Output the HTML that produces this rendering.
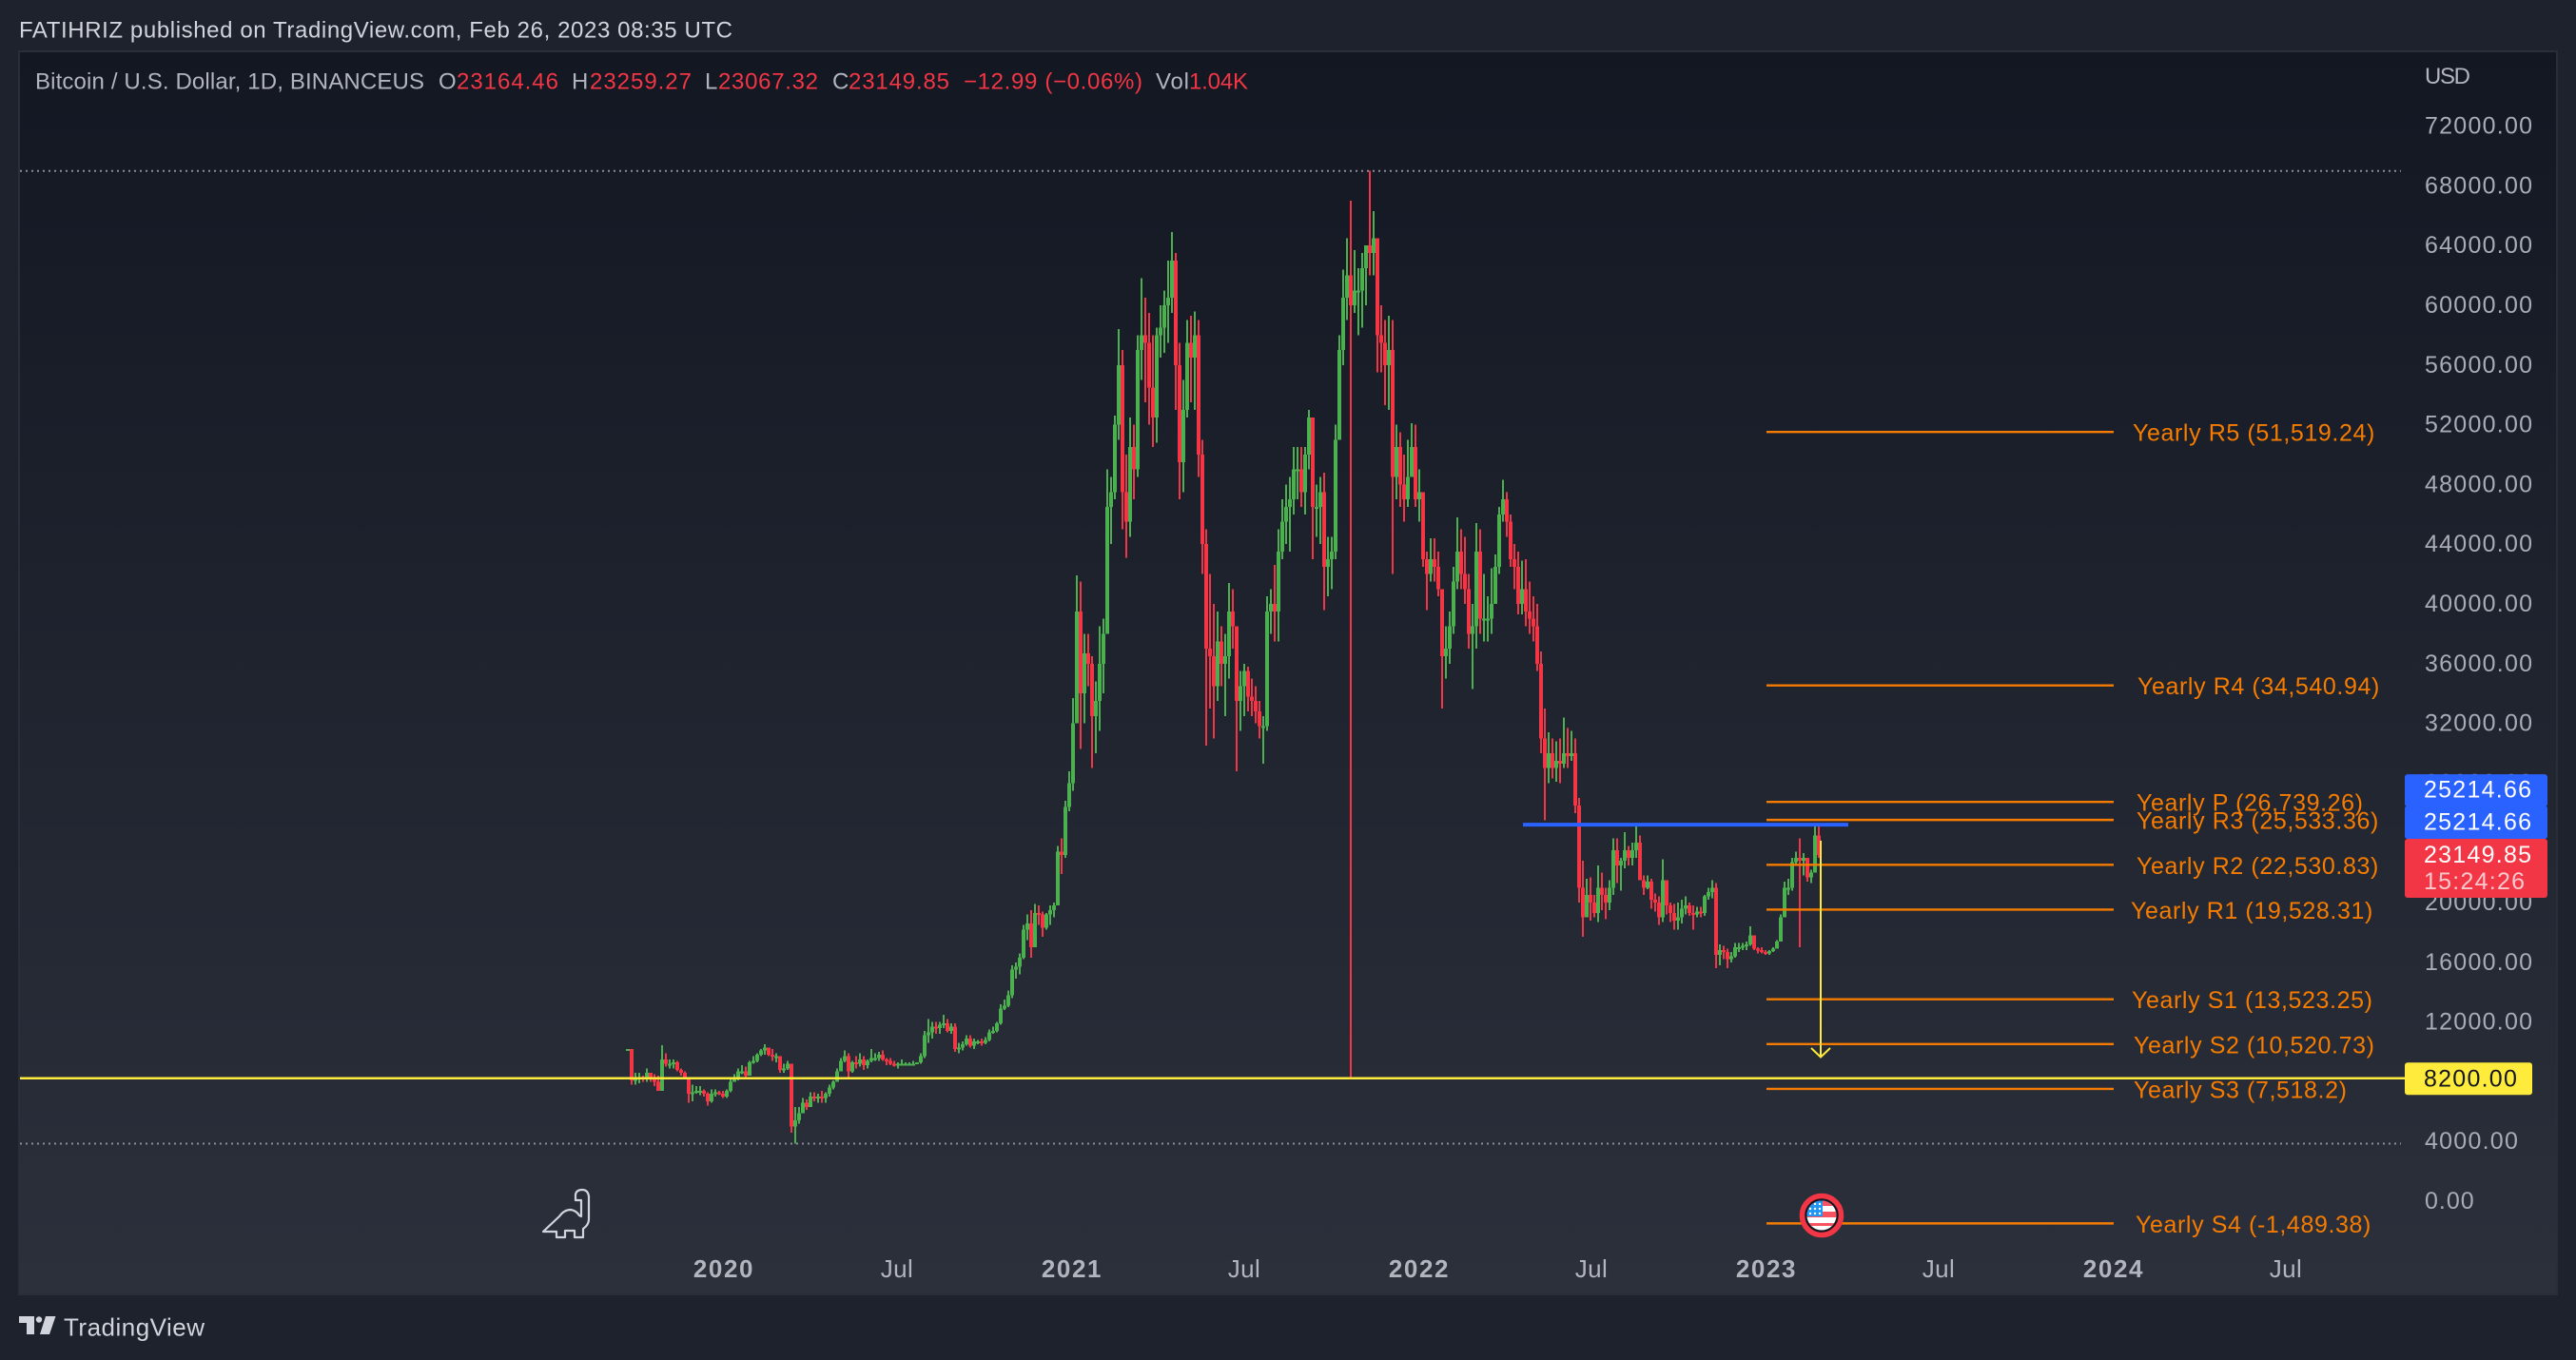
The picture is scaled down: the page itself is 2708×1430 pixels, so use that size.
<!DOCTYPE html>
<html lang="en">
<head>
<meta charset="utf-8">
<title>BTCUSD chart</title>
<style>
html,body{margin:0;padding:0;background:#1e222d;width:2708px;height:1430px;overflow:hidden}
svg{display:block;font-family:"Liberation Sans",sans-serif}
</style>
</head>
<body>
<svg id="chart" width="2708" height="1430" viewBox="0 0 2708 1430" xmlns="http://www.w3.org/2000/svg">
  <defs>
    <linearGradient id="paneGrad" x1="0" y1="0" x2="0" y2="1">
      <stop offset="0" stop-color="#131722"/>
      <stop offset="1" stop-color="#2c303b"/>
    </linearGradient>
    <clipPath id="flagClip"><circle cx="1915" cy="1278" r="15.5"/></clipPath>
  </defs>
  <rect x="0" y="0" width="2708" height="1430" fill="#1e222d"/>
  <rect x="20" y="54" width="2668" height="1307" fill="url(#paneGrad)" stroke="#2a2e39" stroke-width="2"/>

  <text x="20" y="39.5" font-size="24" fill="#d1d4dc" textLength="750" lengthAdjust="spacing">FATIHRIZ published on TradingView.com, Feb 26, 2023 08:35 UTC</text>

  <g font-size="24">
    <text x="37" y="93.5" fill="#b2b5be" textLength="409" lengthAdjust="spacing">Bitcoin / U.S. Dollar, 1D, BINANCEUS</text>
    <text x="461" y="93.5" fill="#b2b5be">O</text>
    <text x="480" y="93.5" fill="#f23645" textLength="107" lengthAdjust="spacing">23164.46</text>
    <text x="601" y="93.5" fill="#b2b5be">H</text>
    <text x="620" y="93.5" fill="#f23645" textLength="107" lengthAdjust="spacing">23259.27</text>
    <text x="741" y="93.5" fill="#b2b5be">L</text>
    <text x="755" y="93.5" fill="#f23645" textLength="105" lengthAdjust="spacing">23067.32</text>
    <text x="875" y="93.5" fill="#b2b5be">C</text>
    <text x="892" y="93.5" fill="#f23645" textLength="106" lengthAdjust="spacing">23149.85</text>
    <text x="1013" y="93.5" fill="#f23645" textLength="188" lengthAdjust="spacing">−12.99 (−0.06%)</text>
    <text x="1215" y="93.5" fill="#b2b5be" textLength="35" lengthAdjust="spacing">Vol</text>
    <text x="1250" y="93.5" fill="#f23645" textLength="62" lengthAdjust="spacing">1.04K</text>
  </g>

  <text x="2549" y="88" font-size="24" fill="#b2b5be" textLength="48" lengthAdjust="spacing">USD</text>

  <g id="yAxis"></g>
  <g id="xAxis"></g>
  <g id="extremes"></g>
  <g id="candles" shape-rendering="crispEdges"></g>
  <g id="levels"></g>
  <g id="annotations"></g>

  <g>
    <circle cx="1915" cy="1278" r="20.5" fill="#131722" stroke="#f23645" stroke-width="5.5"/>
    <g clip-path="url(#flagClip)">
      <rect x="1899" y="1262" width="32" height="32" fill="#ffffff"/>
      <rect x="1899" y="1262" width="32" height="6" fill="#f7525f"/>
      <rect x="1899" y="1274" width="32" height="6" fill="#f7525f"/>
      <rect x="1899" y="1286" width="32" height="3" fill="#f7525f"/>
      <rect x="1899" y="1262" width="17" height="17" fill="#2196f3"/>
      <g fill="#ffffff">
        <circle cx="1903" cy="1266" r="1.2"/><circle cx="1908" cy="1266" r="1.2"/><circle cx="1913" cy="1266" r="1.2"/>
        <circle cx="1903" cy="1271" r="1.2"/><circle cx="1908" cy="1271" r="1.2"/><circle cx="1913" cy="1271" r="1.2"/>
        <circle cx="1903" cy="1276" r="1.2"/><circle cx="1908" cy="1276" r="1.2"/><circle cx="1913" cy="1276" r="1.2"/>
      </g>
    </g>
  </g>

  <path d="M571 1295 L588 1279 Q593 1272 600 1272 Q606 1273 609 1278 L611 1279 L611 1262 L605 1262 L605 1256 Q606 1251 612 1251 Q618 1251 619 1258 L619 1282 Q619 1288 613 1292 L613 1301 L604 1301 L604 1294 L594 1294 L594 1301 L585 1301 L585 1295 Z" fill="none" stroke="#d1d4dc" stroke-width="2.2" stroke-linejoin="round"/>

  <g>
    <path d="M20 1384 H36 V1403 H28 V1391 H20 Z M48 1384 H58.5 L52 1403 H42 Z" fill="#d1d4dc"/>
    <circle cx="41" cy="1387.5" r="3.2" fill="#d1d4dc"/>
    <text x="67" y="1404.5" font-size="26" fill="#d1d4dc" textLength="148" lengthAdjust="spacing">TradingView</text>
  </g>
</svg>
<script>
// Candle values in thousands of USD, one candle every 4 days from the first day below.
const firstCandleDay = -101;
const candleStepDays = 4;
const firstOpen = 10.15;
const highs = [
10.2,9.7,8.6,8.6,8.4,8.9,8.6,8.5,8.4,10.45,
9.9,9.5,9.5,9.4,8.9,8.7,8.0,7.8,7.7,7.7,
7.5,7.3,7.5,7.5,7.4,7.4,7.5,8.2,8.5,8.9,
9.1,9.0,9.4,9.7,9.9,10.2,10.5,10.3,10.2,9.9,
9.6,9.2,9.4,9.2,6.3,6.3,6.9,6.8,7.3,7.3,
7.2,7.4,7.3,7.8,8.1,8.9,9.6,10.1,9.9,9.4,
9.7,9.9,9.7,9.5,10.2,9.9,10.0,10.1,9.6,9.6,
9.4,9.3,9.5,9.3,9.3,9.4,9.3,9.9,11.4,12.2,
12.0,12.0,12.0,12.5,12.2,11.9,11.9,10.6,10.7,11.1,
11.1,10.9,10.8,10.9,11.0,11.5,11.7,12.0,13.2,13.5,
14.1,15.8,16.0,16.6,18.5,19.2,19.5,19.9,19.8,19.4,
19.3,19.8,20.0,23.8,24.3,26.8,28.8,33.7,41.9,41.5,
38.0,38.0,36.5,34.8,38.5,39.0,49.0,48.5,52.6,58.4,
57.0,50.0,52.5,52.0,58.0,61.8,60.5,59.5,58.0,58.5,
60.0,61.0,63.0,64.9,63.5,57.5,55.0,59.0,59.3,59.6,
59.0,51.0,45.0,42.0,40.0,39.5,38.5,38.0,41.4,41.0,
36.0,35.5,36.0,35.8,35.0,34.5,33.5,32.5,40.5,41.0,
42.6,45.0,47.0,48.0,48.5,50.5,50.5,50.5,50.5,53.0,
52.5,48.0,48.5,48.8,44.5,44.5,52.0,58.0,62.4,64.5,
67.0,63.7,62.5,63.5,64.0,69.0,66.3,64.5,60.0,59.0,
59.3,59.0,52.0,51.5,50.0,51.0,52.1,52.0,49.0,47.5,
43.5,44.4,44.4,43.5,41.0,38.5,39.5,42.5,45.8,45.0,
44.5,42.0,40.0,45.4,45.0,42.0,40.5,42.4,43.3,46.5,
48.3,47.5,46.0,44.0,43.5,42.9,43.0,41.5,40.5,40.0,
36.8,33.0,31.4,31.0,30.8,31.0,32.4,31.7,31.5,31.0,
27.0,22.8,21.6,21.7,20.5,22.5,22.0,21.0,21.5,24.3,
24.3,23.0,24.7,23.8,24.0,25.3,24.5,21.8,21.8,21.6,
20.6,20.4,22.9,21.0,20.0,19.9,20.0,20.2,20.4,20.0,
19.8,19.7,19.7,20.5,21.0,21.5,21.3,17.2,17.1,16.9,
16.7,17.3,17.3,17.3,17.4,18.4,17.8,17.0,17.0,16.8,
16.8,17.0,17.5,19.2,21.4,21.6,23.0,23.4,24.3,23.3,
22.9,22.2,25.3,25.2];
const lows = [
10.1,7.8,7.8,7.9,8.0,8.0,8.0,7.7,7.4,7.5,
9.0,8.9,8.9,8.7,8.4,8.2,6.6,6.7,7.2,7.1,
7.0,6.4,6.6,7.0,7.1,6.9,6.9,7.3,8.0,8.1,
8.5,8.3,8.4,9.2,9.3,9.7,9.8,9.7,9.4,9.3,
8.6,8.6,8.8,4.6,3.85,5.2,5.9,6.1,6.3,6.7,
6.6,6.6,6.6,7.0,7.5,8.0,8.7,9.3,8.2,8.6,
8.9,9.0,8.8,8.9,9.3,9.4,9.4,9.4,9.1,9.1,
9.0,8.9,9.1,9.1,9.1,9.1,9.2,9.2,9.6,10.6,
10.9,11.2,11.2,11.6,11.3,11.2,10.0,9.9,10.1,10.4,
10.3,10.2,10.5,10.4,10.5,10.7,11.2,11.3,11.8,12.8,
13.0,13.6,14.9,15.2,16.2,17.5,16.3,17.0,18.5,17.7,
18.2,18.5,19.0,19.8,21.9,23.0,26.1,27.5,32.0,30.3,
32.0,34.5,29.0,30.0,31.5,34.0,38.0,44.0,47.0,51.0,
45.0,43.1,44.5,47.0,48.5,55.0,53.5,52.0,50.5,50.8,
56.5,56.8,57.5,59.5,53.0,47.0,47.5,52.5,53.5,53.0,
48.5,42.0,30.5,33.0,31.0,33.5,34.5,32.5,35.0,37.0,
28.8,31.5,32.5,32.8,32.5,32.0,31.0,29.3,31.5,38.0,
37.5,37.5,43.0,44.0,43.5,46.0,47.0,46.5,46.0,49.0,
43.0,44.5,44.0,39.6,40.5,41.0,43.0,51.0,56.0,59.0,
8.2,59.5,58.0,58.5,60.0,62.0,62.0,55.5,55.5,53.3,
53.0,42.0,47.0,46.5,45.5,46.5,49.0,46.5,45.5,42.5,
39.6,41.5,41.5,40.5,33.0,35.0,36.0,38.0,41.0,41.0,
40.0,37.0,34.3,37.0,38.0,37.5,37.5,38.0,40.0,42.0,
45.5,44.5,42.5,41.0,39.3,39.3,38.5,38.0,37.5,35.5,
30.0,25.5,28.0,28.3,28.1,28.0,29.0,29.0,29.5,26.0,
20.0,17.7,19.0,18.8,19.0,18.7,19.5,18.9,19.5,20.5,
21.3,20.8,22.3,22.5,22.5,23.0,21.5,20.5,20.9,19.6,
19.4,18.5,18.7,19.2,18.7,18.2,18.2,18.6,19.2,19.1,
18.2,19.0,19.0,19.1,20.2,20.3,15.6,15.8,16.2,15.6,
16.0,16.3,16.7,16.8,16.8,17.1,16.8,16.6,16.6,16.5,
16.5,16.7,16.9,17.4,19.0,20.5,20.8,22.5,17.0,21.8,
21.4,21.3,22.0,23.0];
const closes = [
10.2,8.1,8.2,8.3,8.2,8.6,8.2,8.0,7.4,9.5,
9.2,9.2,9.3,8.8,8.6,8.3,7.2,7.3,7.4,7.4,
7.2,6.7,7.2,7.3,7.2,7.0,7.4,8.0,8.2,8.7,
8.7,8.4,9.3,9.4,9.8,10.1,10.3,9.8,9.7,9.7,
8.8,8.9,9.2,5.0,5.4,5.9,6.6,6.3,7.0,6.9,
7.0,6.9,7.2,7.6,8.0,8.7,9.4,9.7,8.7,9.3,
9.2,9.5,9.1,9.4,9.6,9.6,9.8,9.5,9.4,9.2,
9.1,9.2,9.2,9.2,9.2,9.2,9.3,9.7,11.1,11.3,
11.7,11.6,11.8,11.9,11.4,11.7,10.2,10.3,10.5,10.9,
10.4,10.7,10.7,10.6,10.8,11.3,11.4,11.9,12.9,13.1,
13.8,15.5,15.7,16.3,18.2,18.6,17.0,19.3,19.2,18.3,
19.2,19.5,19.8,23.4,23.2,26.4,28.0,32.0,39.5,34.0,
36.7,36.0,32.5,33.5,36.0,38.0,46.5,47.5,52.0,56.0,
47.5,45.5,50.5,49.0,57.0,58.0,57.5,54.5,52.5,58.0,
58.5,60.0,60.5,63.0,56.0,49.5,53.0,57.5,56.5,58.0,
50.0,44.0,37.0,36.5,34.5,37.5,36.0,36.5,39.5,38.5,
33.5,34.5,35.5,33.8,33.5,32.8,31.8,31.8,39.5,40.0,
39.5,43.5,45.5,46.5,47.0,49.0,49.0,47.5,50.0,52.5,
46.5,46.5,47.5,42.5,43.0,43.5,51.0,57.0,60.5,62.0,
60.0,61.0,61.0,62.5,64.0,63.5,64.5,58.0,57.5,56.0,
57.0,48.5,50.5,48.0,47.0,48.5,50.5,47.0,47.5,43.0,
42.0,43.0,42.5,41.0,36.5,37.0,38.5,41.5,43.5,42.0,
41.0,38.0,38.5,43.5,39.0,39.0,39.0,40.0,42.5,46.0,
47.0,45.5,43.0,42.5,40.0,41.0,39.5,39.0,38.5,36.0,
31.0,29.0,30.0,29.0,29.5,29.3,30.0,29.8,30.0,26.5,
21.0,19.0,20.5,20.0,19.3,21.0,20.5,20.0,21.0,23.5,
22.5,22.8,23.5,23.0,23.5,24.0,21.5,21.0,21.4,20.2,
20.0,19.0,21.5,19.8,19.3,18.8,19.0,19.6,19.8,19.3,
19.2,19.4,19.3,20.4,20.7,21.0,16.5,16.8,16.7,16.2,
16.4,17.0,17.0,17.1,17.2,17.8,16.9,16.8,16.7,16.6,
16.75,16.9,17.4,19.0,21.0,21.0,22.7,23.0,22.8,23.0,
21.7,22.0,24.5,23.2];

const priceTicks = [0,4000,8000,12000,16000,20000,24000,28000,32000,36000,40000,44000,48000,52000,56000,60000,64000,68000,72000];
const timeTickLabels = ["2020","Jul","2021","Jul","2022","Jul","2023","Jul","2024","Jul"];
const timeTickDays = [0,182,366,547,731,912,1096,1277,1461,1642];
const timeTickBold = [true,false,true,false,true,false,true,false,true,false];

const pivotNames = ["Yearly R5 (51,519.24)","Yearly R4 (34,540.94)","Yearly P (26,739.26)","Yearly R3 (25,533.36)","Yearly R2 (22,530.83)","Yearly R1 (19,528.31)","Yearly S1 (13,523.25)","Yearly S2 (10,520.73)","Yearly S3 (7,518.2)","Yearly S4 (-1,489.38)"];
const pivotValues = [51519.24,34540.94,26739.26,25533.36,22530.83,19528.31,13523.25,10520.73,7518.2,-1489.38];
const pivotStartDay = 1096;
const pivotEndDay = 1461;

const resistanceValue = 25214.66;
const resistanceStartDay = 840;
const resistanceEndDay = 1182;
const supportValue = 8200;
const lastCloseLabel = "23149.85";
const countdownLabel = "15:24:26";
const arrowDay = 1153;
const arrowFromPrice = 24150;
const arrowToPrice = 9650;

// Axis functions
const xAxisOrigin = 761;
const yAxisZero = 1263;
const pxPerDollar = 0.0157;
function xScale(day){ return xAxisOrigin + day; }
function yScale(usd){ return yAxisZero - usd * pxPerDollar; }

const NS = "http://www.w3.org/2000/svg";
function mk(tag, parent, attrs){
  const el = document.createElementNS(NS, tag);
  for (const k in attrs) el.setAttribute(k, attrs[k]);
  parent.appendChild(el);
  return el;
}
const gY = document.getElementById("yAxis");
const gX = document.getElementById("xAxis");
const gC = document.getElementById("candles");
const gL = document.getElementById("levels");
const gA = document.getElementById("annotations");
const gE = document.getElementById("extremes");
const tickColor = "#a9acb6";

priceTicks.forEach(function(v){
  const t = mk("text", gY, {x:2549, y:yScale(v)+8, "font-size":25, "letter-spacing":v===0?1:1.25, fill:tickColor});
  
  
  t.textContent = v.toFixed(2);
});

timeTickLabels.forEach(function(label, i){
  const t = mk("text", gX, {x:xScale(timeTickDays[i]), y:1343, "text-anchor":"middle", "font-size":26, "letter-spacing":timeTickBold[i]?1.6:0.4, "font-weight":timeTickBold[i]?"bold":"normal", fill:"#b2b5be"});
  
  
  t.textContent = label;
});

const n = Math.min(highs.length, lows.length, closes.length);
for (let i = 0; i < n; i++){
  const open = i > 0 ? closes[i-1] : firstOpen;
  const close = closes[i];
  const up = close >= open;
  const col = up ? "#4caf50" : "#f23645";
  const x = Math.round(xScale(firstCandleDay + i * candleStepDays));
  const wick = mk("rect", gC, {x:x-1, y:yScale(highs[i]*1000), width:2, height:Math.max(1,yScale(lows[i]*1000)-yScale(highs[i]*1000)), fill:col});
  
  
  const top = yScale(Math.max(open, close)*1000);
  const bottom = yScale(Math.min(open, close)*1000);
  const body = mk("rect", gC, {x:x-2, y:top, width:4, height:Math.max(2,bottom-top), fill:col});
  
  
}

// Dotted high / low lines
[Math.max.apply(null, highs), Math.min.apply(null, lows)].forEach(function(k){
  const l = mk("line", gE, {x1:21, x2:2524, y1:yScale(k*1000), y2:yScale(k*1000), stroke:"#8a8d97", "stroke-width":2, "stroke-dasharray":"2 4"});
  
  
});

// Small horizontal nudges so each pivot label sits where the indicator printed it
const labelNudgeX = {"Yearly R5":-1,"Yearly R4":4,"Yearly P":3,"Yearly R3":3,"Yearly R2":3,"Yearly R1":-3,"Yearly S1":-2,"Yearly S2":0,"Yearly S3":0,"Yearly S4":2};
pivotValues.forEach(function(v, i){
  const y = yScale(v);
  const l = mk("line", gL, {x1:xScale(pivotStartDay), x2:xScale(pivotEndDay), y1:y, y2:y, stroke:"#f57c00", "stroke-width":2.4});
  
  
  const key = pivotNames[i].split(" (")[0];
  const t = mk("text", gL, {x:2243 + labelNudgeX[key], y:y+9.5, "font-size":25, "letter-spacing":0.6, fill:"#f57c00"});
  
  
  t.textContent = pivotNames[i];
});

// Drawn horizontal lines, arrow
const ry = yScale(resistanceValue);
const blue = mk("rect", gA, {x:xScale(resistanceStartDay), y:ry-2, width:xScale(resistanceEndDay)-xScale(resistanceStartDay), height:4, fill:"#2962ff"});



const sy = yScale(supportValue);
const yellow = mk("line", gA, {x1:21, x2:2528, y1:sy-0.5, y2:sy-0.5, stroke:"#ffeb3b", "stroke-width":2.4});



const ax = xScale(arrowDay);
const shaft = mk("line", gA, {x1:ax, x2:ax, y1:yScale(arrowFromPrice), y2:yScale(arrowToPrice), stroke:"#ffeb3b", "stroke-width":2});


const ah = yScale(arrowToPrice);
const head = mk("path", gA, {d:"M"+(ax-10)+" "+(ah-9.5)+" L"+ax+" "+ah+" L"+(ax+10)+" "+(ah-9.5), fill:"none", stroke:"#ffeb3b", "stroke-width":2});



// Price-axis tags
function tag(name, y, h, w, fill){
  const r = mk("rect", gA, {x:2528, y:y, width:w, height:h, rx:3, fill:fill});
  
  
}
function tagText(name, txt, y, fill){
  const t = mk("text", gA, {x:2548, y:y, "font-size":25, "letter-spacing":1.25, fill:fill});
  
  
  t.textContent = txt;
}
const b1 = ry - 53, b2 = ry - 20;
tag('resistance-tag-upper', b1, 34, 150, "#2962ff");
tag('resistance-tag-lower', b2, 35, 150, "#2962ff");
tag('last-price-tag', 882, 62, 150, "#f23645");
tag('support-tag', sy-17, 34, 134, "#ffeb3b");
tagText('resistance-tag-upper-value', resistanceValue.toFixed(2), b1+24.5, "#ffffff");
tagText('resistance-tag-lower-value', resistanceValue.toFixed(2), b2+25.5, "#ffffff");
tagText('last-price-value', lastCloseLabel, 907, "#ffffff");
tagText('countdown-value', countdownLabel, 935, "#f7c9cd");
tagText('support-tag-value', supportValue.toFixed(2), sy+8, "#131722");
</script>
</body>
</html>
